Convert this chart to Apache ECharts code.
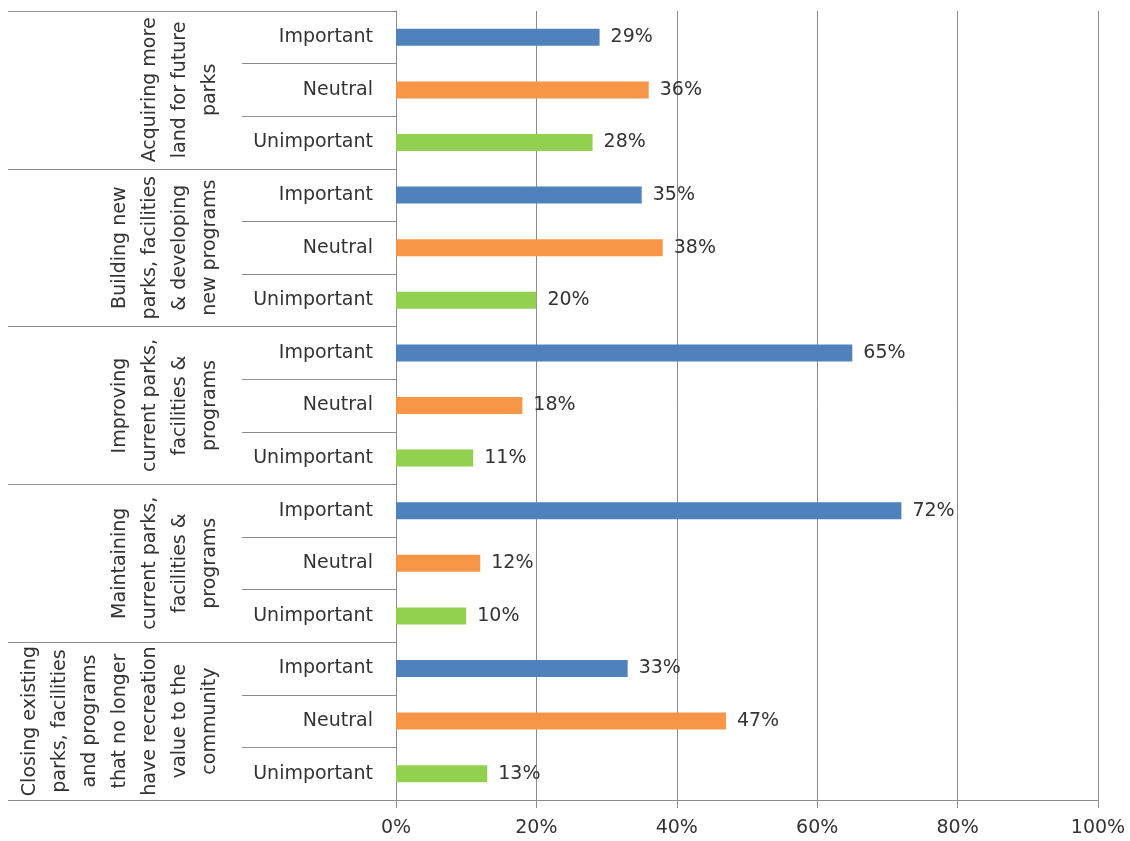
<!DOCTYPE html>
<html>
<head>
<meta charset="utf-8">
<title>Priorities for parks, facilities and programs</title>
<script src="https://cdn.jsdelivr.net/npm/echarts@6/dist/echarts.min.js"></script>
<style>
  html, body { margin: 0; padding: 0; background: #ffffff; }
  #chart { width: 1130px; height: 841px; }
</style>
</head>
<body>
<div id="chart"></div>
<script>
// Survey topics (outer category level), drawn top to bottom
const groups = [
  'Acquiring more\nland for future\nparks',
  'Building new\nparks, facilities\n& developing\nnew programs',
  'Improving\ncurrent parks,\nfacilities &\nprograms',
  'Maintaining\ncurrent parks,\nfacilities &\nprograms',
  'Closing existing\nparks, facilities\nand programs\nthat no longer\nhave recreation\nvalue to the\ncommunity'
];

// Response levels (inner category level)
const responses = ['Important', 'Neutral', 'Unimportant'];

// Share of respondents (%) per topic
const important   = [29, 35, 65, 72, 33];
const neutral     = [36, 38, 18, 12, 47];
const unimportant = [28, 20, 11, 10, 13];

// Value axis tick labels
const xTicks = [0, 20, 40, 60, 80, 100];

const responseColors = ['#4f81bd', '#f79646', '#92d050'];
const responseValues = [important, neutral, unimportant];

// Flatten to one row per topic/response pair
const rowLabels = [];
const rowData = [];
groups.forEach((g, gi) => {
  responses.forEach((r, ri) => {
    rowLabels.push(r);
    rowData.push({
      value: responseValues[ri][gi],
      itemStyle: { color: responseColors[ri] }
    });
  });
});

const FONT = 'DejaVu Sans';
const TEXT = '#333333';
const LINE = '#8c8c8c';

const chart = echarts.init(document.getElementById('chart'), null, { renderer: 'canvas' });

chart.setOption({
  backgroundColor: '#ffffff',
  animation: false,
  grid: {
    left: 396, right: 32, top: 11, bottom: 41,
    containLabel: false,
    outerBoundsMode: 'none'
  },
  xAxis: {
    type: 'value',
    min: xTicks[0],
    max: xTicks[xTicks.length - 1],
    interval: xTicks[1] - xTicks[0],
    axisLine: { show: true, lineStyle: { color: LINE, width: 1 } },
    axisTick: { show: true, length: 8, lineStyle: { color: LINE, width: 1 } },
    axisLabel: {
      margin: 19,
      formatter: '{value}%',
      fontFamily: FONT, fontSize: 19, color: TEXT
    },
    splitLine: { show: true, lineStyle: { color: LINE, width: 1 } }
  },
  yAxis: [
    {
      // response level labels with row separators
      type: 'category',
      data: rowLabels,
      inverse: true,
      position: 'left',
      axisLine: { show: true, lineStyle: { color: LINE, width: 1 } },
      axisTick: { show: true, length: 154, lineStyle: { color: LINE, width: 1 } },
      axisLabel: {
        interval: 0,
        margin: 23,
        fontFamily: FONT, fontSize: 19, color: TEXT
      }
    },
    {
      // topic labels, rotated, with group separators
      type: 'category',
      data: groups,
      inverse: true,
      position: 'left',
      axisLine: { show: false },
      axisTick: { show: true, length: 388, lineStyle: { color: LINE, width: 1 } },
      axisLabel: {
        interval: 0,
        rotate: 90,
        margin: 171,
        lineHeight: 30,
        align: 'center',
        fontFamily: FONT, fontSize: 19, color: TEXT
      }
    }
  ],
  series: [
    {
      type: 'bar',
      yAxisIndex: 0,
      barWidth: 17,
      data: rowData,
      label: {
        show: true,
        position: 'right',
        distance: 11,
        formatter: '{c}%',
        fontFamily: FONT, fontSize: 19, color: TEXT
      }
    }
  ]
});
</script>
</body>
</html>
